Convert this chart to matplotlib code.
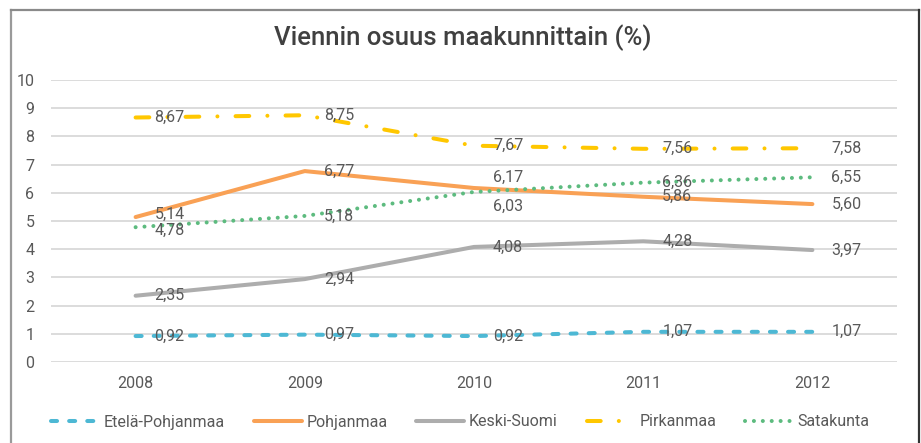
import matplotlib
matplotlib.use("Agg")
import matplotlib.pyplot as plt
from matplotlib.lines import Line2D

years = ["2008", "2009", "2010", "2011", "2012"]
series_names = ["Etelä-Pohjanmaa", "Pohjanmaa", "Keski-Suomi", "Pirkanmaa", "Satakunta"]
etela_pohjanmaa = [0.92, 0.97, 0.92, 1.07, 1.07]
pohjanmaa = [5.14, 6.77, 6.17, 5.86, 5.60]
keski_suomi = [2.35, 2.94, 4.08, 4.28, 3.97]
pirkanmaa = [8.67, 8.75, 7.67, 7.56, 7.58]
satakunta = [4.78, 5.18, 6.03, 6.36, 6.55]
yticks = list(range(0, 11))
title = "Viennin osuus maakunnittain (%)"

font = ["Roboto", "DejaVu Sans"]
plt.rcParams["font.family"] = font

W, H = 921, 443
fig = plt.figure(figsize=(W / 100, H / 100), dpi=100)
ax = fig.add_axes([51 / W, 1 - 362 / H, (897 - 51) / W, (362 - 80) / H])

lw = 2.9
styles = [
    dict(color="#4DB8D4", dashes=(1.5, 3.0), dash_capstyle="round"),
    dict(color="#F9A155", linestyle="-", solid_capstyle="round"),
    dict(color="#ADADAD", linestyle="-", solid_capstyle="round"),
    dict(color="#FFC700", dashes=(3.4, 4.5, 0.01, 4.5), dash_capstyle="round"),
    dict(color="#5DBB7F", dashes=(0.01, 2.2), dash_capstyle="round"),
]
# vertical label nudges (pixels) where labels collide, as in the reference
nudges = {(1, 0): 3, (4, 0): -3, (1, 2): 11, (4, 2): -14}
data = [etela_pohjanmaa, pohjanmaa, keski_suomi, pirkanmaa, satakunta]
x = list(range(len(years)))
handles = []
for si, (name, vals, st) in enumerate(zip(series_names, data, styles)):
    ln, = ax.plot(x, vals, lw=lw, label=name, **st)
    handles.append(ln)
    for xi, v in zip(x, vals):
        dy = nudges.get((si, xi), 0)
        ax.annotate(f"{v:.2f}".replace(".", ","), (xi, v), xytext=(19, dy),
                    textcoords="offset pixels", ha="left", va="center",
                    fontsize=11.5, color="#595959")

ax.set_xlim(-0.5, 4.5)
ax.set_ylim(0, 10)
ax.set_yticks(yticks)
ax.set_xticks(x)
ax.set_xticklabels(years)
ax.grid(axis="y", color="#D9D9D9", lw=1.3)
ax.set_axisbelow(True)
for s in ax.spines.values():
    s.set_visible(False)
ax.tick_params(axis="both", length=0, labelsize=11.5, labelcolor="#595959")
ax.tick_params(axis="y", pad=12)
ax.tick_params(axis="x", pad=10)

fig.text(463 / W, 1 - 38 / H, title, ha="center", va="center", fontsize=18.5,
         color="#404040", fontweight="medium")

leg = fig.legend(handles=handles, loc="center", bbox_to_anchor=(0.5, 1 - 422 / H),
                 ncol=5, frameon=False, fontsize=11.5, labelcolor="#595959",
                 handlelength=3.0, handletextpad=0.3, columnspacing=1.8)

# chart border
fig.add_artist(Line2D([11 / W, 11 / W], [0, 1 - 10 / H], transform=fig.transFigure, color="#9A9A9A", lw=1.6))
fig.add_artist(Line2D([11 / W, 919 / W], [1 - 10 / H, 1 - 10 / H], transform=fig.transFigure, color="#8A8A8A", lw=1.6))
fig.add_artist(Line2D([919 / W, 919 / W], [0, 1 - 10 / H], transform=fig.transFigure, color="#333333", lw=1.6))

fig.savefig("out.png", dpi=100)
